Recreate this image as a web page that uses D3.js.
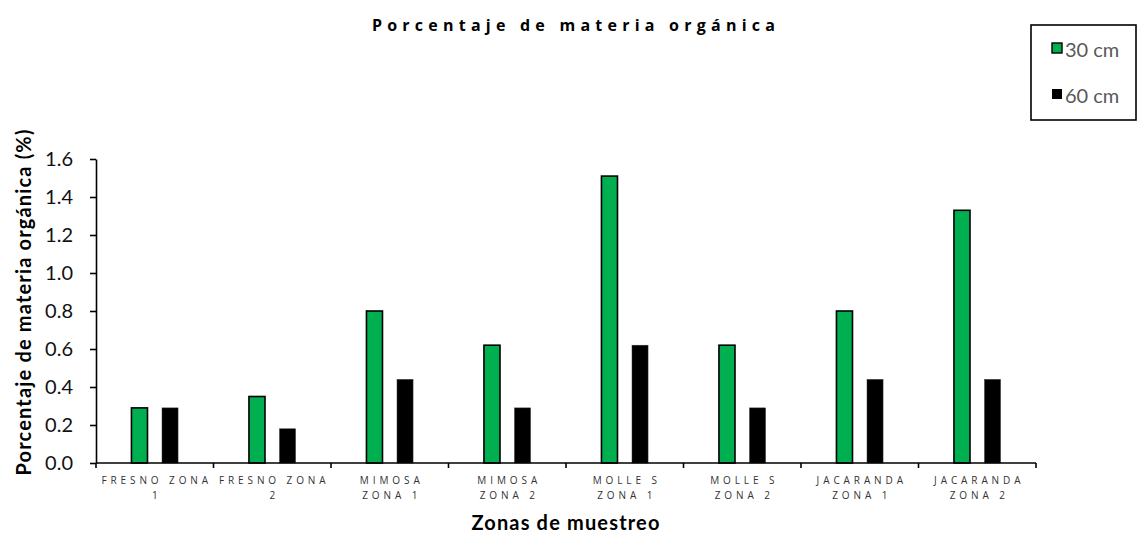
<!DOCTYPE html>
<html>
<head>
<meta charset="utf-8">
<script src="https://cdn.jsdelivr.net/npm/d3@7"></script>
<style>
  html, body { margin: 0; padding: 0; background: #fff; }
  svg { display: block; }
</style>
</head>
<body>
<svg id="chart" width="1138" height="537"></svg>
<script>
// Organic matter percentage per sampling zone, at two depths
const categories = [
  "FRESNO ZONA 1", "FRESNO ZONA 2", "MIMOSA ZONA 1", "MIMOSA ZONA 2",
  "MOLLE S ZONA 1", "MOLLE S ZONA 2", "JACARANDA ZONA 1", "JACARANDA ZONA 2"
];
// Tick labels as they wrap under each band
const tickLabelLines = [
  ["FRESNO ZONA", "1"], ["FRESNO ZONA", "2"], ["MIMOSA", "ZONA 1"], ["MIMOSA", "ZONA 2"],
  ["MOLLE S", "ZONA 1"], ["MOLLE S", "ZONA 2"], ["JACARANDA", "ZONA 1"], ["JACARANDA", "ZONA 2"]
];
const seriesNames = ["30 cm", "60 cm"];
const values30 = [0.29, 0.35, 0.80, 0.62, 1.51, 0.62, 0.80, 1.33];
const values60 = [0.29, 0.18, 0.44, 0.29, 0.62, 0.29, 0.44, 0.44];
const yTicks = [0, 0.2, 0.4, 0.6, 0.8, 1.0, 1.2, 1.4, 1.6];
const seriesColors = ["#00B050", "#000000"];

const rows = categories.map((c, i) => ({
  cat: c,
  vals: [
    { s: seriesNames[0], v: values30[i] },
    { s: seriesNames[1], v: values60[i] }
  ]
}));

const svg = d3.select("#chart");
const plot = { left: 96, right: 1036, top: 159, bottom: 463 };

const y = d3.scaleLinear().domain([0, 1.6]).range([plot.bottom, plot.top]);
const x0 = d3.scaleBand().domain(categories).range([plot.left, plot.right]);
const x1 = d3.scaleBand().domain(seriesNames).range([0, x0.bandwidth()])
  .paddingInner(0.475).paddingOuter(1.16);
const color = d3.scaleOrdinal().domain(seriesNames).range(seriesColors);

// Spread a text's letters so that it spans the given width
function fitSpacing(sel, width) {
  const n = sel.text().length;
  const w = sel.node().getComputedTextLength();
  const ls = Math.max(0, (width - w) / Math.max(1, n - 1));
  sel.style("letter-spacing", ls + "px");
}

// Title
const title = svg.append("text")
  .attr("x", 576).attr("y", 31)
  .attr("text-anchor", "middle")
  .style("font-family", "'Open Sans', sans-serif")
  .style("font-weight", "700")
  .style("font-size", "16px")
  .style("fill", "#000")
  .text("Porcentaje de materia orgánica");
fitSpacing(title, 403);

// Bars
const groups = svg.append("g").selectAll("g")
  .data(rows).join("g")
  .attr("transform", d => `translate(${x0(d.cat)},0)`);

groups.selectAll("rect")
  .data(d => d.vals).join("rect")
  .attr("x", d => x1(d.s))
  .attr("width", x1.bandwidth())
  .attr("y", d => y(d.v))
  .attr("height", d => y(0) - y(d.v))
  .attr("fill", d => color(d.s))
  .attr("stroke", d => d.s === seriesNames[0] ? "#000" : "#333")
  .attr("stroke-width", d => d.s === seriesNames[0] ? 1.6 : 0.5);

// Y axis
const yAxis = svg.append("g")
  .attr("transform", `translate(${plot.left},0)`)
  .call(d3.axisLeft(y).tickValues(yTicks).tickFormat(d3.format(".1f"))
    .tickSize(6).tickPadding(17).tickSizeOuter(0));
yAxis.selectAll("path, line").attr("stroke", "#000").attr("stroke-width", 1.6);
yAxis.selectAll("text")
  .style("font-family", "Lato, 'Noto Sans', sans-serif")
  .style("font-size", "20px")
  .style("fill", "#111");

// X axis: baseline with boundary ticks, labels centred in each band
const xAxis = svg.append("g");
xAxis.append("line")
  .attr("x1", plot.left).attr("x2", plot.right)
  .attr("y1", y(0)).attr("y2", y(0))
  .attr("stroke", "#000").attr("stroke-width", 1.6);
const bounds = categories.map(c => x0(c)).concat([plot.right]);
xAxis.selectAll(".btick").data(bounds).join("line")
  .attr("class", "btick")
  .attr("x1", d => d).attr("x2", d => d)
  .attr("y1", y(0)).attr("y2", y(0) + 5)
  .attr("stroke", "#000").attr("stroke-width", 1.6);

categories.forEach((c, ci) => {
  const t = svg.append("text")
    .attr("text-anchor", "middle")
    .style("font-family", "'Open Sans', sans-serif")
    .style("font-size", "10px")
    .style("letter-spacing", "3.9px")
    .style("fill", "#333");
  const cx = x0(c) + x0.bandwidth() / 2 + 2;
  tickLabelLines[ci].forEach((ln, i) => {
    t.append("tspan").attr("x", cx).attr("y", 484 + i * 15).text(ln);
  });
});

// Axis titles
const xTitle = svg.append("text")
  .attr("x", 566).attr("y", 530)
  .attr("text-anchor", "middle")
  .style("font-family", "Lato, 'Noto Sans', sans-serif")
  .style("font-weight", "700")
  .style("font-size", "20px")
  .style("fill", "#000")
  .text("Zonas de muestreo");
fitSpacing(xTitle, 188);

const yTitle = svg.append("text")
  .attr("transform", "translate(31,302) rotate(-90)")
  .attr("text-anchor", "middle")
  .style("font-family", "Lato, 'Noto Sans', sans-serif")
  .style("font-weight", "700")
  .style("font-size", "20px")
  .style("fill", "#000")
  .text("Porcentaje de materia orgánica (%)");
fitSpacing(yTitle, 346);

// Legend
const legend = svg.append("g");
legend.append("rect")
  .attr("x", 1031).attr("y", 25).attr("width", 105).attr("height", 95)
  .attr("fill", "#fff").attr("stroke", "#000").attr("stroke-width", 1.6);
const items = legend.selectAll(".item").data(seriesNames).join("g")
  .attr("class", "item")
  .attr("transform", (d, i) => `translate(1052,${43 + i * 46})`);
items.append("rect")
  .attr("width", 10).attr("height", 10)
  .attr("fill", d => color(d))
  .attr("stroke", "#000").attr("stroke-width", (d, i) => i === 0 ? 1.4 : 0);
items.append("text")
  .attr("x", 13).attr("y", 14)
  .style("font-family", "Lato, 'Noto Sans', sans-serif")
  .style("font-size", "20px")
  .style("fill", "#595959")
  .text(d => d);
</script>
</body>
</html>
